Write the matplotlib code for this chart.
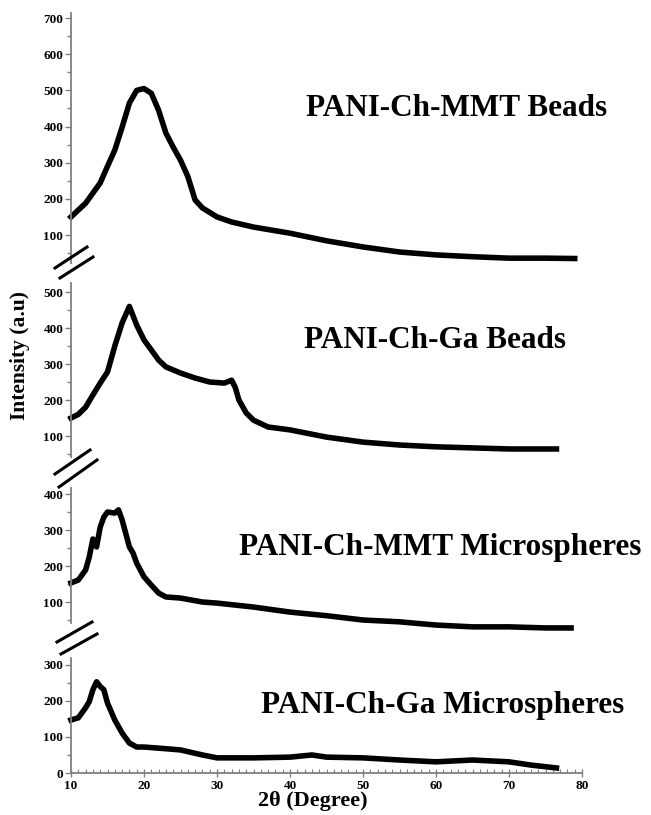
import matplotlib
matplotlib.use("Agg")
import matplotlib.pyplot as plt
from matplotlib.lines import Line2D
from matplotlib.ticker import MultipleLocator

plt.rcParams["font.family"] = ["Liberation Serif", "DejaVu Serif"]
plt.rcParams["font.weight"] = "bold"

# ---- data (2theta in degrees, intensity in a.u.) ----
tt_mmt_beads = [10, 11, 12, 13, 14, 15, 16, 17, 18, 19, 20, 21, 22, 23, 24, 25, 26,
                27, 28, 30, 32, 35, 40, 45, 50, 55, 60, 65, 70, 75, 79]
int_mmt_beads = [150, 169, 188, 216, 244, 290, 335, 398, 465, 500, 505, 492, 445, 382,
                 343, 307, 262, 197, 175, 150, 136, 122, 105, 84, 67, 53, 45, 40, 36, 36, 35]

tt_ga_beads = [10, 11, 12, 13, 14, 15, 16, 17, 18, 19, 20, 21, 22, 23, 25, 27, 29, 31,
               32, 32.5, 33, 34, 35, 37, 40, 45, 50, 55, 60, 65, 70, 76.5]
int_ga_beads = [150, 160, 180, 214, 247, 278, 350, 414, 460, 408, 367, 339, 311, 292,
                275, 261, 250, 247, 255, 235, 200, 164, 144, 125, 117, 97, 83, 75, 70, 67, 64, 64]

tt_mmt_micro = [10, 11, 12, 12.5, 13, 13.5, 14, 14.5, 15, 16, 16.5, 17, 18, 18.5, 19, 20,
                21, 22, 23, 25, 28, 30, 35, 40, 45, 50, 55, 60, 65, 70, 75, 78.5]
int_mmt_micro = [153, 161, 189, 225, 275, 253, 308, 336, 350, 347, 356, 328, 253, 236,
                 208, 170, 147, 125, 114, 111, 100, 97, 86, 72, 62, 50, 45, 36, 31, 31, 28, 28]

tt_ga_micro = [10, 11, 12, 12.5, 13, 13.5, 14, 14.5, 15, 16, 17, 18, 19, 20, 22, 25, 28,
               30, 35, 40, 43, 45, 50, 55, 60, 65, 70, 73, 76.5]
int_ga_micro = [147, 153, 181, 198, 231, 253, 240, 231, 194, 147, 111, 83, 72, 72, 69,
                64, 50, 42, 42, 44, 50, 44, 42, 36, 31, 36, 31, 22, 14]

labels = ["PANI-Ch-MMT Beads", "PANI-Ch-Ga Beads",
          "PANI-Ch-MMT Microspheres", "PANI-Ch-Ga Microspheres"]
series = [(tt_mmt_beads, int_mmt_beads), (tt_ga_beads, int_ga_beads),
          (tt_mmt_micro, int_mmt_micro), (tt_ga_micro, int_ga_micro)]
ylims = [(22.6, 714), (41.7, 525), (41.7, 416.7), (0, 319)]
yticks = [[100, 200, 300, 400, 500, 600, 700], [100, 200, 300, 400, 500],
          [100, 200, 300, 400], [0, 100, 200, 300]]

W, H = 651, 815
fig = plt.figure(figsize=(W / 100, H / 100), dpi=100)

# panel extents in pixels (top, bottom)
panel_px = [(13, 263), (283, 457), (488, 623), (658, 773)]
x0, x1 = 71, 582
label_pos = [(457, 108), (435, 340), (440, 548), (443, 705)]

axes = []
for i, ((top, bot), (tt, inten)) in enumerate(zip(panel_px, series)):
    ax = fig.add_axes([x0 / W, 1 - bot / H, (x1 - x0) / W, (bot - top) / H])
    ax.plot(tt, inten, color="black", lw=4, clip_on=False, solid_joinstyle="round")
    ax.set_xlim(10, 80)
    ax.set_ylim(*ylims[i])
    ax.set_yticks(yticks[i])
    ax.yaxis.set_minor_locator(MultipleLocator(50))
    for s in ["top", "right"]:
        ax.spines[s].set_visible(False)
    ax.spines["left"].set_color("#808080")
    ax.spines["left"].set_linewidth(1.3)
    ax.tick_params(axis="y", which="major", length=4, width=1.0, color="#808080",
                   labelsize=9.5, pad=1.5)
    ax.tick_params(axis="y", which="minor", length=3, width=1.0, color="#808080")
    if i < 3:
        ax.spines["bottom"].set_visible(False)
        ax.tick_params(axis="x", which="both", bottom=False, labelbottom=False)
    else:
        ax.spines["bottom"].set_color("#808080")
        ax.spines["bottom"].set_linewidth(1.3)
        ax.set_xticks(range(10, 81, 10))
        ax.xaxis.set_minor_locator(MultipleLocator(1))
        ax.tick_params(axis="x", which="major", direction="inout", length=6, width=1.0,
                       color="#808080", labelsize=9.5, pad=2)
        ax.tick_params(axis="x", which="minor", direction="in", length=3, width=0.8,
                       color="#808080")
    for lab in ax.get_yticklabels() + ax.get_xticklabels():
        lab.set_fontweight("bold")
    lx, ly = label_pos[i]
    fig.text(lx / W, 1 - ly / H, labels[i], fontsize=22.5, fontweight="bold",
             ha="center", va="center")
    axes.append(ax)

fig.text(20 / W, 1 - 356 / H, "Intensity (a.u)", rotation=90, fontsize=15.5,
         fontweight="bold", ha="center", va="center")
fig.text(313 / W, 1 - 801 / H, "2θ (Degree)", fontsize=16, fontweight="bold",
         ha="center", va="center")

# axis break marks (double slashes) on the left spine
breaks_px = [
    [((55, 268), (87, 247)), ((60, 278), (93, 257))],
    [((55, 474), (90, 450)), ((59, 487), (97, 460))],
    [((57, 642), (92, 622)), ((61, 654), (97, 634))],
]
for pair in breaks_px:
    for (xa, ya), (xb, yb) in pair:
        fig.add_artist(Line2D([xa / W, xb / W], [1 - ya / H, 1 - yb / H],
                              transform=fig.transFigure, color="black", lw=2.2))

fig.savefig("out.png", dpi=100)
